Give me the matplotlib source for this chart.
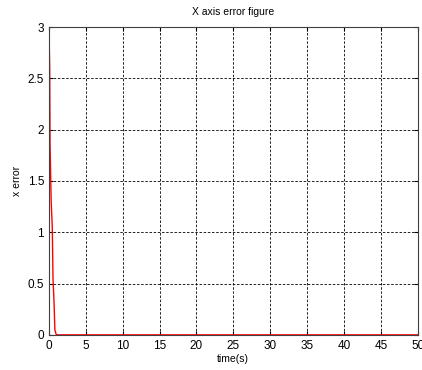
import matplotlib
matplotlib.use('Agg')
import matplotlib.pyplot as plt

# x error over time
t = [0, 0.1, 0.15, 0.3, 0.45, 0.55, 0.7, 0.8, 0.95, 1.05, 1.2, 50]
err = [3, 2.6, 1.85, 1.3, 1.05, 0.55, 0.3, 0.05, 0.01, 0, 0, 0]
xticks = list(range(0, 51, 5))
yticks = [0, 0.5, 1, 1.5, 2, 2.5, 3]

plt.rcParams['font.family'] = ['Liberation Sans', 'DejaVu Sans']
fig = plt.figure(figsize=(4.22, 3.70), dpi=100)
ax = fig.add_axes([0.116, 0.095, 0.874, 0.832])

ax.plot(t, err, color='red', lw=1)
ax.set_xlim(0, 50)
ax.set_ylim(0, 3)
ax.set_xticks(xticks)
ax.set_yticks(yticks)
ax.set_yticklabels(['0', '0.5', '1', '1.5', '2', '2.5', '3'])
ax.grid(True, color='black', linestyle=(0, (3, 2)), linewidth=0.6)
ax.tick_params(direction='in', labelsize=8.5, length=3, top=True, right=True)
for s in ax.spines.values():
    s.set_color('#404040')
    s.set_linewidth(0.8)

ax.set_title('X axis error figure', fontsize=7.5, pad=9)
ax.set_xlabel('time(s)', fontsize=7.5, labelpad=2)
ax.set_ylabel('x error', fontsize=7.5, labelpad=4)

fig.savefig('out.png', dpi=100)
